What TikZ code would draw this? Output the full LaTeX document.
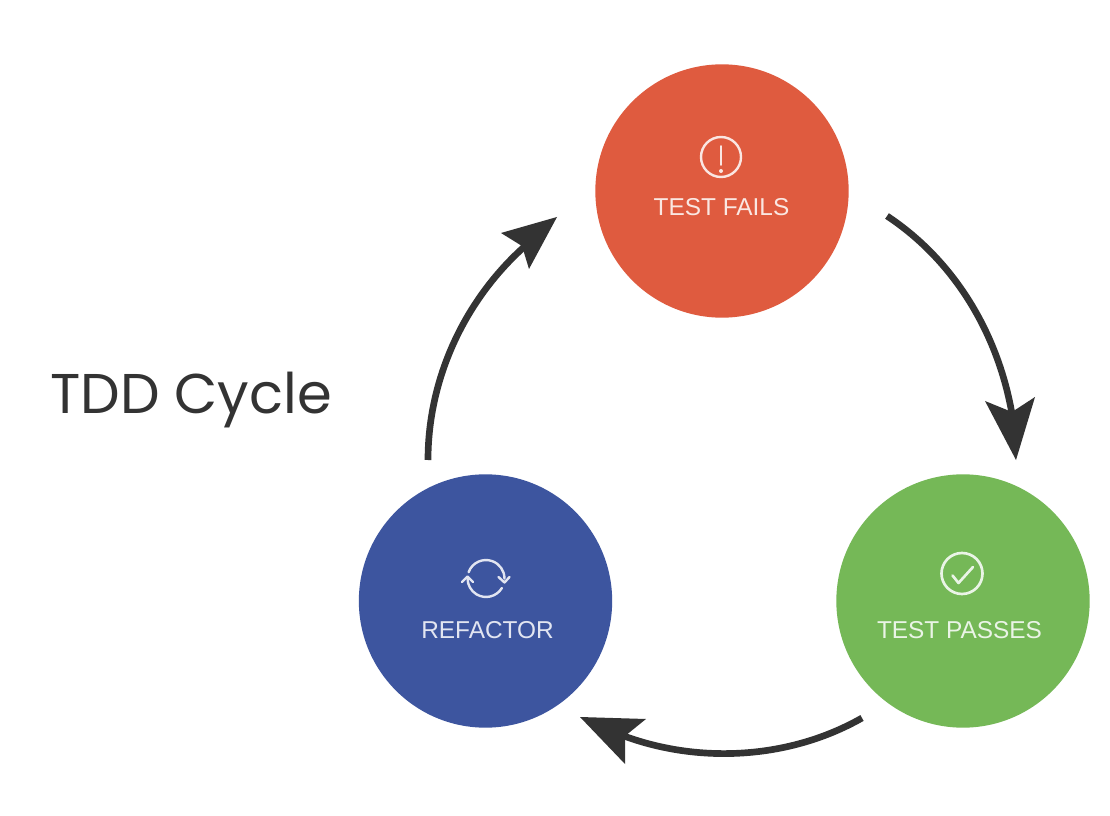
\documentclass[tikz,border=0pt]{standalone}
\usepackage{fontspec}
\setmainfont{Liberation Sans}
\newfontfamily\titlefont{Poppins}
\definecolor{redc}{HTML}{DF5B3F}
\definecolor{greenc}{HTML}{75B857}
\definecolor{bluec}{HTML}{3D559F}
\definecolor{inkc}{HTML}{333333}
\tikzset{
  x=0.75pt,y=-0.75pt,
  stage/.style={circle,minimum size=190pt,inner sep=0pt,outer sep=0pt},
  lab/.style={text=#1,font=\fontsize{18.3}{22}\selectfont,inner sep=0pt},
  ico/.style={draw=#1,line width=1.8pt,line cap=round,line join=round},
  conn/.style={draw=inkc,line width=5pt},
  tipfill/.style={fill=inkc,draw=none}
}
\begin{document}
\begin{tikzpicture}
\useasboundingbox (0,0) rectangle (1110,816);
\fill[white] (0,0) rectangle (1110,816);
\node[stage,fill=redc] (fails) at (722,191) {};
\node[stage,fill=greenc] (passes) at (963,601) {};
\node[stage,fill=bluec] (refactor) at (485.5,601) {};
\node[lab=white!85!redc] (failstext) at (721.5,207.5) {TEST FAILS};
\node[lab=white!85!greenc] (passestext) at (959.5,630.5) {TEST PASSES};
\node[lab=white!85!bluec] (refactortext) at (487.5,630.5) {REFACTOR};
\node[font=\titlefont\fontsize{42}{50}\selectfont,text=inkc,inner sep=0pt,anchor=base west] (title) at (50,413) {TDD Cycle};
% icons
\draw[ico=white!85!redc] (721,157) circle[radius=20];
\draw[ico=white!85!redc,line width=1.4pt] (721,146) -- (721,165);
\fill[white!85!redc] (721,171) circle[radius=2];
\draw[ico=white!85!greenc,line width=2pt] (962,573.5) circle[radius=20.5];
\draw[ico=white!85!greenc,line width=2pt] (952.5,575.5) -- (958.5,583) -- (973,567);
\draw[ico=white!85!bluec] (468.6,572.2) arc[start angle=-160,end angle=0,radius=18.5];
\draw[ico=white!85!bluec] (501.9,588) arc[start angle=31,end angle=180,radius=18.5];
\draw[ico=white!85!bluec] (462,582) -- (467.5,576.5) -- (473,582);
\draw[ico=white!85!bluec] (498.5,577) -- (504.5,582.5) -- (509.5,577);
% connectors
\coordinate (a1s) at (887,216);
\coordinate (a1e) at (1012,414);
\coordinate (a2s) at (862,718);
\coordinate (a2e) at (624,736);
\coordinate (a3s) at (428,460);
\coordinate (a3e) at (524,247);
\draw[conn] (a1s) .. controls (955,261) and (998,334) .. (a1e);
\fill[tipfill] (1016,460) -- (985,401) -- (1012,412) -- (1035,397) -- cycle;
\draw[conn] (a2s) .. controls (790,759) and (700,764) .. (a2e);
\fill[tipfill] (580,717) -- (646,719) -- (625,736) -- (625,764) -- cycle;
\draw[conn] (a3s) .. controls (428,378) and (465,300) .. (a3e);
\fill[tipfill] (557,217) -- (529,269) -- (522,246) -- (501,233) -- cycle;
\end{tikzpicture}
\end{document}
